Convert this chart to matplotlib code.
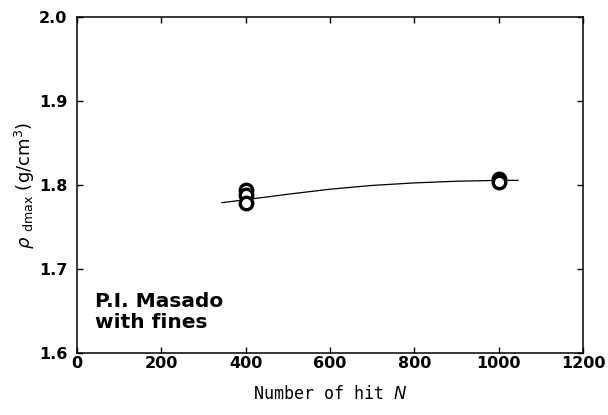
import matplotlib.pyplot as plt
import numpy as np

# Compaction test: max dry density vs number of hits
n_hit = [400, 400, 400, 1000, 1000]
rho_dmax = [1.794, 1.788, 1.779, 1.807, 1.804]

# Trend curve
curve_n = [344, 400, 500, 600, 700, 800, 900, 1000, 1046]
curve_rho = [1.779, 1.7825, 1.789, 1.795, 1.7995, 1.8025, 1.8045, 1.8055, 1.8055]

plt.rcParams['mathtext.fontset'] = 'custom'
plt.rcParams['mathtext.rm'] = 'DejaVu Sans'
plt.rcParams['mathtext.it'] = 'DejaVu Sans:italic'

fig = plt.figure(figsize=(6.08, 4.15), dpi=100)
ax = fig.add_axes([0.1266, 0.1494, 0.8323, 0.8096])

ax.plot(curve_n, curve_rho, color='black', lw=0.9)
ax.plot(n_hit, rho_dmax, 'o', ms=9, mfc='white', mec='black', mew=2.4)

ax.set_xlim(0, 1200)
ax.set_ylim(1.6, 2.0)
ax.set_xticks(np.arange(0, 1201, 200))
ax.set_yticks([1.6, 1.7, 1.8, 1.9, 2.0])
ax.set_yticklabels(['1.6', '1.7', '1.8', '1.9', '2.0'])

for s in ax.spines.values():
    s.set_linewidth(1.1)
ax.tick_params(direction='in', length=4, width=1, top=True, right=True)
ax.tick_params(axis='y', pad=7)
ax.tick_params(axis='x', pad=2)
for lab in ax.get_xticklabels() + ax.get_yticklabels():
    lab.set_fontfamily('DejaVu Sans')
    lab.set_fontweight('bold')
    lab.set_fontsize(11.5)

ax.set_xlabel('Number of hit $\\it{N}$', family='DejaVu Sans Mono', fontsize=12, labelpad=10)
ax.set_ylabel('$\\it{\\rho}$ $_{\\rm dmax}$ (g/cm$^3$)', family='DejaVu Sans', fontsize=13, labelpad=1)

ax.text(0.035, 0.075, 'P.I. Masado\nwith fines', transform=ax.transAxes,
        family='DejaVu Sans', fontweight='bold', fontsize=14.5, linespacing=1.15)

fig.savefig('out.png', dpi=100)
